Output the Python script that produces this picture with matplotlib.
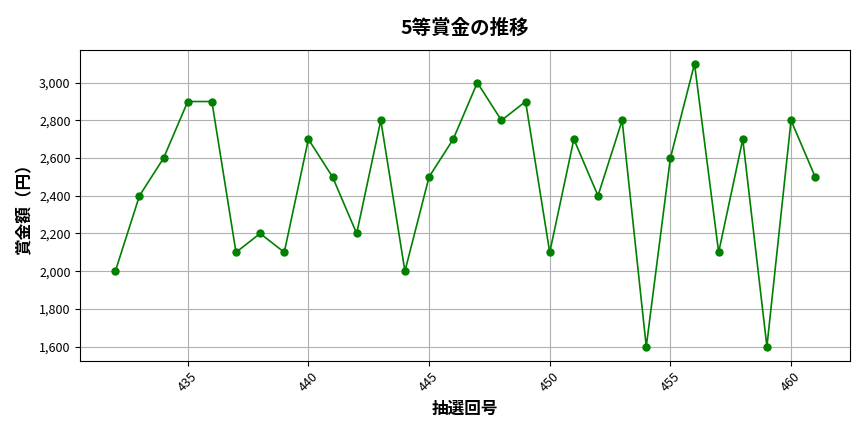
import matplotlib
matplotlib.use("Agg")
import matplotlib.pyplot as plt
from matplotlib.ticker import FuncFormatter

plt.rcParams['font.family'] = ['Noto Sans CJK JP', 'DejaVu Sans']

draws = list(range(432, 462))
prizes = [2000, 2400, 2600, 2900, 2900, 2100, 2200, 2100, 2700, 2500,
          2200, 2800, 2000, 2500, 2700, 3000, 2800, 2900, 2100, 2700,
          2400, 2800, 1600, 2600, 3100, 2100, 2700, 1600, 2800, 2500]

fig, ax = plt.subplots(figsize=(8.64, 4.32), dpi=100)
ax.plot(draws, prizes, color='green', marker='o', markersize=5, linewidth=1.2)
ax.set_title('5等賞金の推移', fontsize=14, fontweight='bold', pad=11)
ax.set_xlabel('抽選回号', fontsize=12, fontweight='bold')
ax.set_ylabel('賞金額（円）', fontsize=12, fontweight='bold')
ax.yaxis.set_major_formatter(FuncFormatter(lambda v, p: f'{int(v):,}'))
ax.grid(True, color='#b0b0b0', linewidth=0.8)
ax.tick_params(axis='x', labelrotation=45, labelsize=9)
ax.tick_params(axis='y', labelsize=9)
fig.subplots_adjust(left=0.093, right=0.984, top=0.885, bottom=0.165)
fig.savefig('out.png', dpi=100)
